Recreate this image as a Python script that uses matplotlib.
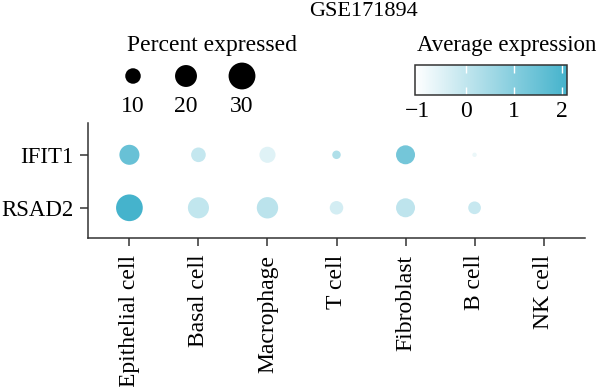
import numpy as np
import matplotlib
matplotlib.use("Agg")
import matplotlib.pyplot as plt
from matplotlib.colors import LinearSegmentedColormap, Normalize
from matplotlib.colorbar import ColorbarBase

plt.rcParams['font.family'] = ['Liberation Serif', 'DejaVu Serif']

# data
cell_types = ["Epithelial cell", "Basal cell", "Macrophage", "T cell",
              "Fibroblast", "B cell", "NK cell"]
genes = ["IFIT1", "RSAD2"]
pct_ifit1 = [16.7, 8.9, 10.8, 3.0, 15.0, 0.8, 0.0]
pct_rsad2 = [29.7, 18.5, 19.0, 7.6, 15.0, 6.7, 0.0]
avg_ifit1 = [1.5, -0.05, -0.5, 0.3, 1.3, -0.7, -1.0]
avg_rsad2 = [2.1, 0.0, 0.1, -0.3, 0.05, -0.1, -1.0]
legend_pcts = [10, 20, 30]
cbar_ticks = [-1, 0, 1, 2]

vmin, vmax = -1.05, 2.1
cmap = LinearSegmentedColormap.from_list("wb", ["#ffffff", "#45b3cc"])
norm = Normalize(vmin=vmin, vmax=vmax)
size_k = 12.45  # points^2 per percent

fig = plt.figure(figsize=(6, 3.87), dpi=100)
ax = fig.add_axes([88/600, 1-238/387, (585-88)/600, (238-123)/387])

x = np.arange(len(cell_types))
for row, (pct, avg) in enumerate([(pct_ifit1, avg_ifit1), (pct_rsad2, avg_rsad2)]):
    pct = np.array(pct)
    keep = pct > 0
    ax.scatter(x[keep], np.full(keep.sum(), row), s=pct[keep]*size_k,
               c=np.array(avg)[keep], cmap=cmap, norm=norm, linewidths=0)

ax.set_xlim(-0.6, len(cell_types) - 0.4)
ax.set_ylim(1.57, -0.6)
ax.set_xticks(x)
ax.set_xticklabels(cell_types, rotation=90, fontsize=17)
ax.set_yticks([0, 1])
ax.set_yticklabels(genes, fontsize=16.5)
for s in ['top', 'right']:
    ax.spines[s].set_visible(False)
for s in ['left', 'bottom']:
    ax.spines[s].set_color('#333333')
    ax.spines[s].set_linewidth(1.1)
ax.tick_params(length=6, width=1.1, color='#333333', pad=6)
ax.tick_params(axis='y', pad=4.5)

# title
fig.text(363/600, 1-12/387, "GSE171894", ha='center', va='center', fontsize=16)

# size legend
fig.text(212/600, 1-45/387, "Percent expressed", ha='center', va='center', fontsize=17)
lax = fig.add_axes([0, 0, 1, 1], facecolor='none')
lax.set_xlim(0, 600)
lax.set_ylim(387, 0)
lax.axis('off')
leg_x = [133, 186, 242]
lax.scatter(leg_x, [76]*3, s=np.array(legend_pcts)*size_k, color='black', linewidths=0)
for lx, p in zip(leg_x, legend_pcts):
    lax.text(lx, 106, str(p), ha='center', va='center', fontsize=17)

# colorbar
fig.text(417/600, 1-45/387, "Average expression", ha='left', va='center', fontsize=16.5)
cax = fig.add_axes([415/600, 1-95/387, 152/600, 30/387])
cb = ColorbarBase(cax, cmap=cmap, norm=norm, orientation='horizontal', ticks=cbar_ticks)
cb.outline.set_linewidth(1.1)
cb.outline.set_edgecolor('#333333')
cax.tick_params(direction='in', color='white', length=6, width=1, labelsize=17,
                pad=4, top=True)
cax.set_xticklabels(['\u22121', '0', '1', '2'])

fig.savefig("out.png", dpi=100)
